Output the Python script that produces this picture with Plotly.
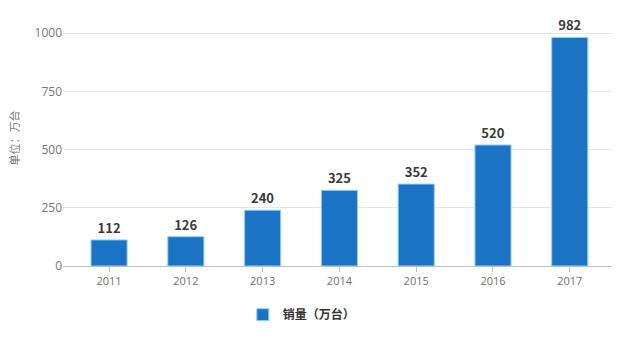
import plotly.graph_objects as go

years = ["2011", "2012", "2013", "2014", "2015", "2016", "2017"]
sales = [112, 126, 240, 325, 352, 520, 982]
y_ticks = [0, 250, 500, 750, 1000]

fig = go.Figure()
fig.add_trace(go.Bar(
    x=years,
    y=sales,
    name="销量（万台）",
    width=0.47,
    marker=dict(color="#1a73c4", line=dict(color="#8fd0f0", width=1)),
    text=[str(v) for v in sales],
    textposition="outside",
    cliponaxis=False,
    textfont=dict(family="Noto Sans CJK SC, Noto Sans", size=13, color="#3a3a3a", weight="bold"),
))

fig.update_layout(
    width=627,
    height=339,
    margin=dict(l=63, r=15, t=10, b=70),
    paper_bgcolor="white",
    plot_bgcolor="white",
    showlegend=True,
    legend=dict(
        orientation="h",
        x=0.435, xanchor="center",
        y=-0.19, yanchor="middle",
        itemwidth=30,
        font=dict(family="Noto Sans CJK SC", size=12, color="#333333", weight="bold"),
    ),
    bargap=0.5,
)

fig.update_xaxes(
    type="category",
    range=[-0.6, 6.55],
    showline=True,
    linecolor="#c0c0c0",
    linewidth=1,
    ticks="outside",
    ticklen=5,
    tickcolor="#c0c0c0",
    showgrid=False,
    tickfont=dict(family="Open Sans", size=11, color="#707070"),
)

fig.update_yaxes(
    range=[0, 1100],
    tickvals=y_ticks,
    showgrid=True,
    gridcolor="#e6e6e6",
    zeroline=False,
    tickfont=dict(family="Open Sans", size=12, color="#777777"),
    title=dict(text="单位：万台", font=dict(family="Noto Sans CJK SC", size=11, color="#777777"), standoff=12),
)

fig.write_html("out.html")
